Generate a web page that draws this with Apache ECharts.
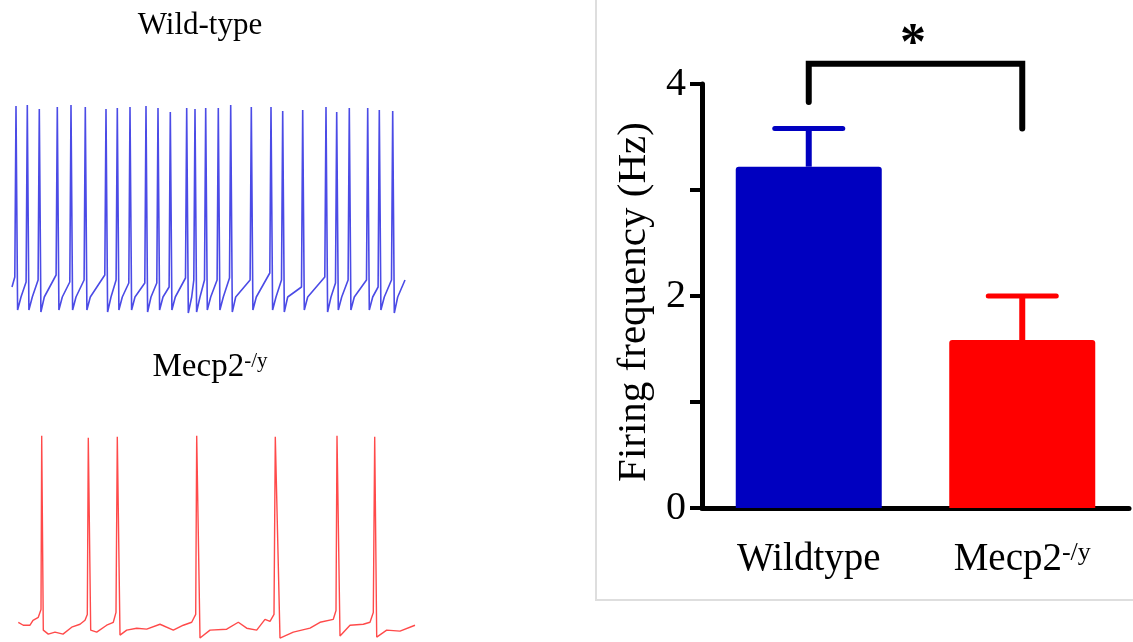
<!DOCTYPE html>
<html>
<head>
<meta charset="utf-8">
<script src="https://cdn.jsdelivr.net/npm/echarts@6/dist/echarts.min.js"></script>
<style>
html,body{margin:0;padding:0;background:#fff}
#chart{width:1133px;height:642px}
</style>
</head>
<body>
<div id="chart"></div>
<script>
// BAR PANEL DATA
const groups=['Wildtype','Mecp2-/y'];
const meanHz=[3.22,1.585];
const semHz=[0.36,0.415];
const barColors=['#0000c0','#ff0000'];
const yTickLabels=[0,2,4];
// significance bracket, [group, Hz]
const bracketPts=[['Wildtype',3.83],['Wildtype',4.19],['Mecp2-/y',4.19],['Mecp2-/y',3.58]];

// WILD-TYPE TRACE (time in trace px, amplitude in a.u.)
const wtSpikeT=[16,27.3,39.3,57.3,71,85.3,106,117.3,130,146,158,170.3,186.7,195,205.7,218.3,230.7,251.3,271,282.7,302.7,326,336.7,349.3,367.7,379.3,392.7];
const wtPeak=[209,210,206,208,210,208,206,207,208,209,207,203,207,206,207,207,210,208,208,204,205,208,203,207,207,205,204];
const wtPre=[38,33,35,40,33,35,40,35,32,32,32,28,37,35,35,35,37,35,42,35,28,38,32,35,35,28,35];
const wtTrough=[5,5,3,5,5,5,3,5,5,3,5,5,2,3,5,5,3,5,5,3,5,3,5,5,5,5,2];
const wtRecovery=18;
const wtStart=[12,28];
const wtEnd=[405,35];

// MECP2 TRACE
const koT=[18.3,23.3,30,33,38.3,41,41.7,43.3,48.3,55,63,71.7,80,85,87.3,88.3,90.7,96.7,106.7,113.3,116,117.3,120,126.7,136.7,146.7,160,173.3,183.3,191.7,195.7,196.7,200,210,226.7,238.3,246.7,256.7,265,270,274,275.3,280,293.3,310,320,333.3,336,337,340,350,363.3,370,373.3,374.7,376.7,386.7,400,415];
const koV=[20,17,17,22,25,33,209,12,8,10,8,15,18,22,28,207,12,10,17,20,30,208,7,12,14,13,18,12,17,20,28,209,4,12,13,20,14,12,23,21,28,208,4,10,14,20,23,32,209,6,17,18,20,30,208,5,12,11,17];

const wtTrace=[wtStart];
wtSpikeT.forEach((t,i)=>{
  wtTrace.push([t-1.2,wtPre[i]],[t,wtPeak[i]],[t+1.6,wtTrough[i]],[t+5,wtRecovery]);
});
wtTrace.push(wtEnd);
const koTrace=koT.map((t,i)=>[t,koV[i]]);

const SERIF='"Liberation Serif","Times New Roman",serif';
const chart=echarts.init(document.getElementById('chart'),null,{renderer:'canvas'});

const traceAxis=(g)=>({gridIndex:g,type:'value',min:0,max:420,show:false});
const ampAxis=(g)=>({gridIndex:g,type:'value',min:0,max:220,show:false});

chart.setOption({
  animation:false,
  backgroundColor:'#fff',
  grid:[
    {left:0,top:95,width:420,height:220},
    {left:0,top:425,width:420,height:220},
    {left:702,top:84,width:427,height:424}
  ],
  xAxis:[
    traceAxis(0),traceAxis(1),
    {gridIndex:2,type:'category',data:groups,
      axisLine:{lineStyle:{color:'#000',width:5}},
      axisTick:{show:false},
      axisLabel:{margin:32,color:'#000',
        formatter:v=>v==='Mecp2-/y'?'{n|Mecp2}{s|-/y}':'{n|'+v+'}',
        rich:{n:{fontSize:39,fontFamily:SERIF,color:'#000'},
              s:{fontSize:26,fontFamily:SERIF,color:'#000',verticalAlign:'top'}}}}
  ],
  yAxis:[
    ampAxis(0),ampAxis(1),
    {gridIndex:2,type:'value',min:0,max:4,interval:1,
      name:'Firing frequency (Hz)',nameLocation:'middle',nameGap:47,
      nameTextStyle:{fontSize:41,fontFamily:SERIF,color:'#000',padding:[0,12,0,0]},
      axisLine:{show:true,lineStyle:{color:'#000',width:5}},
      axisTick:{show:true,length:12,lineStyle:{color:'#000',width:4}},
      splitLine:{show:false},
      axisLabel:{margin:16,fontSize:40,fontFamily:SERIF,color:'#000',
        formatter:v=>yTickLabels.includes(v)?String(v):''}}
  ],
  graphic:[
    {type:'rect',shape:{x:596,y:-10,width:600,height:610},style:{fill:'none',stroke:'#dedede',lineWidth:2},z:-1},
    {type:'text',x:200,y:26,style:{text:'Wild-type',fontSize:31,fontFamily:SERIF,fill:'#000',align:'center',verticalAlign:'middle'}},
    {type:'text',x:210,y:367,style:{text:'{n|Mecp2}{s|-/y}',align:'center',verticalAlign:'middle',
      rich:{n:{fontSize:33,fontFamily:SERIF,fill:'#000'},
            s:{fontSize:21,fontFamily:SERIF,fill:'#000',verticalAlign:'top'}}}},
    {type:'text',x:913,y:46,style:{text:'*',fontSize:52,fontWeight:'bold',fontFamily:SERIF,fill:'#000',align:'center',verticalAlign:'middle'}}
  ],
  series:[
    {type:'line',xAxisIndex:0,yAxisIndex:0,data:wtTrace,symbol:'none',
      lineStyle:{color:'#4b4be6',width:1.6}},
    {type:'line',xAxisIndex:1,yAxisIndex:1,data:koTrace,symbol:'none',
      lineStyle:{color:'#ff4a4a',width:1.4}},
    {type:'bar',xAxisIndex:2,yAxisIndex:2,barWidth:146,
      data:meanHz.map((v,i)=>({value:v,itemStyle:{color:barColors[i],borderRadius:[3,3,0,0]}}))},
    {type:'custom',xAxisIndex:2,yAxisIndex:2,
      data:meanHz.map((m,i)=>[i,m,m+semHz[i]]),
      encode:{x:0,y:[1,2]},
      renderItem:(params,api)=>{
        const i=api.value(0);
        const base=api.coord([i,api.value(1)]);
        const top=api.coord([i,api.value(2)]);
        const c=barColors[params.dataIndex];
        return {type:'group',children:[
          {type:'line',shape:{x1:base[0],y1:base[1],x2:top[0],y2:top[1]},style:{stroke:c,lineWidth:6}},
          {type:'line',shape:{x1:top[0]-34,y1:top[1],x2:top[0]+34,y2:top[1]},style:{stroke:c,lineWidth:5,lineCap:'round'}}
        ]};
      }},
    {type:'line',xAxisIndex:2,yAxisIndex:2,data:bracketPts,symbol:'none',clip:false,
      lineStyle:{color:'#000',width:6,cap:'round',join:'miter'}}
  ]
});
</script>
</body>
</html>
